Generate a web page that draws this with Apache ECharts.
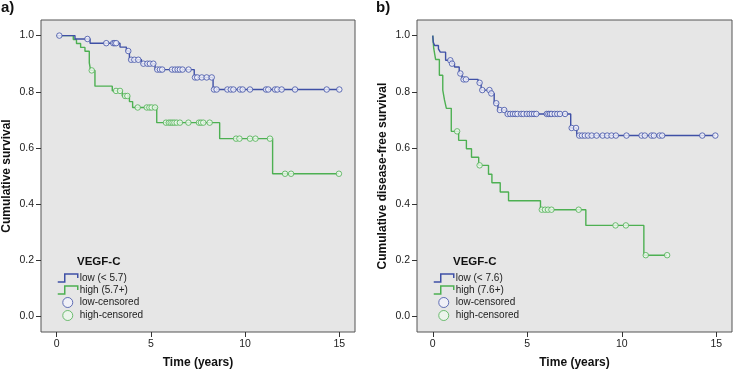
<!DOCTYPE html>
<html><head><meta charset="utf-8">
<script src="https://cdn.jsdelivr.net/npm/echarts@6/dist/echarts.min.js"></script>
<style>html,body{margin:0;padding:0;background:#fff}#c{width:733px;height:374px}</style>
</head><body><div id="c"></div>
<script>
// ---- Panel a) overall survival ----
const aLowT = [0, 0.97, 1.77, 3.36, 3.7, 3.86, 4.5, 5.22, 7.3, 8.3];
const aLowS = [1.0, 0.988, 0.973, 0.959, 0.945, 0.914, 0.900, 0.879, 0.851, 0.808];
const aLowCens = [0.14, 1.63, 2.63, 3.0, 3.08, 3.16, 3.8, 3.95, 4.12, 4.33, 4.6, 4.81, 4.95, 5.13,
  5.34, 5.48, 5.6, 6.12, 6.28, 6.42, 6.54, 6.68, 7.0, 7.34, 7.46, 7.7, 7.96, 8.23,
  8.35, 8.49, 9.06, 9.24, 9.38, 9.73, 9.87, 10.26, 11.11, 11.23, 11.59, 11.71, 11.94, 12.65, 14.33, 15.0];
const aHighT = [0, 0.88, 1.05, 1.27, 1.5, 1.73, 1.8, 2.03, 2.95, 3.48, 3.86, 4.03, 5.31, 8.65, 11.46];
const aHighS = [1.0, 0.986, 0.972, 0.958, 0.944, 0.903, 0.876, 0.820, 0.803, 0.785, 0.765, 0.744, 0.690, 0.633, 0.508];
const aHighCens = [1.86, 3.15, 3.36, 3.63, 3.75, 4.3, 4.78, 4.92, 5.04, 5.22, 5.8, 5.95, 6.05, 6.15, 6.25,
  6.37, 6.54, 6.99, 7.55, 7.66, 7.78, 8.12, 9.52, 9.7, 10.26, 10.55, 11.32, 12.12, 12.44, 14.98];

// ---- Panel b) disease-free survival ----
const bLowT = [0, 0.03, 0.1, 0.3, 0.4, 0.68, 1.0, 1.15, 1.4, 1.55, 2.4, 2.56, 3.05, 3.25, 3.45, 3.86, 7.3, 7.62];
const bLowS = [1.0, 0.976, 0.965, 0.953, 0.941, 0.912, 0.900, 0.888, 0.865, 0.844, 0.832, 0.806, 0.794, 0.759, 0.735, 0.721, 0.671, 0.644];
const bLowCens = [0.93, 1.02, 1.46, 1.63, 1.76, 2.48, 2.62, 3.0, 3.1, 3.36, 3.55, 3.78, 3.96, 4.1, 4.24, 4.36,
  4.48, 4.68, 4.8, 4.98, 5.12, 5.24, 5.36, 5.48, 6.03, 6.12, 6.21, 6.3, 6.45, 6.59, 6.73, 7.0, 7.35, 7.58,
  7.75, 7.9, 8.05, 8.22, 8.41, 8.67, 8.99, 9.23, 9.46, 9.69, 10.25, 11.05, 11.22, 11.57, 11.7, 12.0, 12.14, 14.26, 14.95];
const bHighT = [0, 0.05, 0.15, 0.35, 0.53, 0.62, 0.72, 0.98, 1.37, 1.78, 2.05, 2.43, 2.95, 3.13, 3.57, 4.01, 5.7, 8.1, 11.17];
const bHighS = [1.0, 0.955, 0.915, 0.859, 0.806, 0.771, 0.741, 0.659, 0.627, 0.597, 0.567, 0.538, 0.506, 0.476, 0.443, 0.412, 0.380, 0.324, 0.218];
const bHighCens = [1.29, 2.48, 5.77, 5.94, 6.1, 6.28, 7.72, 9.67, 10.22, 11.27, 12.4];

// ---- ticks / labels ----
const xTicks = [0, 5, 10, 15];
const yTicks = [0, 0.2, 0.4, 0.6, 0.8, 1.0];
const legendA = ['low (< 5.7)', 'high (5.7+)', 'low-censored', 'high-censored'];
const legendB = ['low (< 7.6)', 'high (7.6+)', 'low-censored', 'high-censored'];

const FONT = '"Liberation Sans", Arial, sans-serif';
const BLUE = '#3f50a6', GREEN = '#4db052';
const BLUEFILL = '#f2f3fb', GREENFILL = '#eef8ee';
const STEP = 'path://M0,9 L7,9 L7,1 L20,1 L20,5';

function sAt(T, S, t) { let s = S[0]; for (let i = 0; i < T.length; i++) { if (T[i] <= t) s = S[i]; } return s; }
function kmLine(T, S, C) {
  const d = T.map((t, i) => [t, S[i]]);
  const last = Math.max.apply(null, C);
  if (last > T[T.length - 1]) d.push([last, S[S.length - 1]]);
  return d;
}
function kmCens(T, S, C) { return C.map(t => [t, sAt(T, S, t)]); }

const pad = 15 / 18;
function xAx(g) {
  return {
    type: 'value', gridIndex: g, min: -pad, max: 15 + pad,
    splitLine: { show: false }, axisLine: { show: false, onZero: false },
    axisTick: { show: true, inside: false, customValues: xTicks, length: 5, lineStyle: { color: '#333' } },
    axisLabel: { customValues: xTicks, fontSize: 10.5, color: '#222', fontFamily: FONT, margin: 7 },
    name: 'Time (years)', nameLocation: 'middle', nameGap: 25,
    nameTextStyle: { fontSize: 12, fontWeight: 'bold', color: '#111', fontFamily: FONT }
  };
}
function yAx(g, name) {
  return {
    type: 'value', gridIndex: g, min: -1 / 18, max: 1 + 1 / 18,
    splitLine: { show: false }, axisLine: { show: false, onZero: false },
    axisTick: { show: true, inside: false, customValues: yTicks, length: 5, lineStyle: { color: '#333' } },
    axisLabel: { customValues: yTicks, fontSize: 10.5, color: '#222', fontFamily: FONT, margin: 7,
      formatter: v => v.toFixed(1) },
    name: name, nameLocation: 'middle', nameGap: 28, nameRotate: 90,
    nameTextStyle: { fontSize: 12, fontWeight: 'bold', color: '#111', fontFamily: FONT }
  };
}
function series(g, names, lowT, lowS, lowC, highT, highS, highC) {
  return [
    { name: names[0], type: 'line', xAxisIndex: g, yAxisIndex: g, step: 'end', showSymbol: false, symbol: 'none',
      lineStyle: { color: BLUE, width: 1.4 }, itemStyle: { color: BLUE }, data: kmLine(lowT, lowS, lowC), z: 3 },
    { name: names[1], type: 'line', xAxisIndex: g, yAxisIndex: g, step: 'end', showSymbol: false, symbol: 'none',
      lineStyle: { color: GREEN, width: 1.4 }, itemStyle: { color: GREEN }, data: kmLine(highT, highS, highC), z: 2 },
    { name: names[2], type: 'scatter', xAxisIndex: g, yAxisIndex: g, symbol: 'circle', symbolSize: 5.5,
      itemStyle: { color: BLUEFILL, borderColor: BLUE, borderWidth: 1 }, data: kmCens(lowT, lowS, lowC), z: 5 },
    { name: names[3], type: 'scatter', xAxisIndex: g, yAxisIndex: g, symbol: 'circle', symbolSize: 5.5,
      itemStyle: { color: GREENFILL, borderColor: GREEN, borderWidth: 1 }, data: kmCens(highT, highS, highC), z: 4 }
  ];
}
function legend(left, names) {
  return {
    left: left, top: 273, orient: 'vertical', itemWidth: 20, itemHeight: 10, itemGap: 2, padding: 0,
    selectedMode: false,
    textStyle: { fontSize: 10, color: '#222', fontFamily: FONT, padding: [0, 0, 0, -3] },
    data: [
      { name: names[0], icon: STEP, itemStyle: { color: 'transparent', borderColor: BLUE, borderWidth: 1.5 } },
      { name: names[1], icon: STEP, itemStyle: { color: 'transparent', borderColor: GREEN, borderWidth: 1.5 } },
      { name: names[2], icon: 'circle', itemStyle: { color: BLUEFILL, borderColor: BLUE, borderWidth: 1 } },
      { name: names[3], icon: 'circle', itemStyle: { color: GREENFILL, borderColor: GREEN, borderWidth: 1 } }
    ]
  };
}
const gridStyle = { show: true, backgroundColor: '#e6e6e6', borderColor: '#555', borderWidth: 1, containLabel: false };
const option = {
  animation: false,
  backgroundColor: '#fff',
  title: [
    { text: 'a)', left: 1, top: 0, padding: 0, textStyle: { fontSize: 15, fontWeight: 'bold', color: '#111', fontFamily: FONT } },
    { text: 'b)', left: 376, top: 0, padding: 0, textStyle: { fontSize: 15, fontWeight: 'bold', color: '#111', fontFamily: FONT } },
    { text: 'VEGF-C', left: 77, top: 256, padding: 0, textStyle: { fontSize: 11.5, fontWeight: 'bold', color: '#111', fontFamily: FONT } },
    { text: 'VEGF-C', left: 453, top: 256, padding: 0, textStyle: { fontSize: 11.5, fontWeight: 'bold', color: '#111', fontFamily: FONT } }
  ],
  grid: [
    Object.assign({ left: 41, top: 20, width: 314, height: 314 }, gridStyle),
    Object.assign({ left: 417, top: 20, width: 315, height: 314 }, gridStyle)
  ],
  xAxis: [xAx(0), xAx(1)],
  yAxis: [yAx(0, 'Cumulative survival'), yAx(1, 'Cumulative disease-free survival')],
  legend: [legend(57, legendA), legend(433, legendB)],
  series: [].concat(
    series(0, legendA, aLowT, aLowS, aLowCens, aHighT, aHighS, aHighCens),
    series(1, legendB, bLowT, bLowS, bLowCens, bHighT, bHighS, bHighCens)
  )
};
const chart = echarts.init(document.getElementById('c'), null, { renderer: 'canvas' });
chart.setOption(option);
</script></body></html>
